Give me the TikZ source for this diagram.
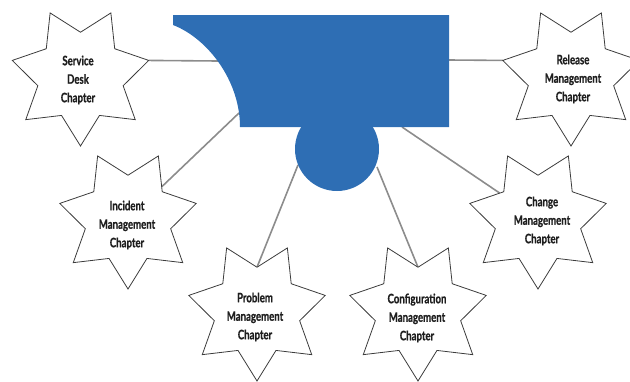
\documentclass[tikz,border=0pt]{standalone}
\usepackage{fontspec}
\newfontfamily\chapfont{Lato}[UprightFont=* Bold, FakeStretch=0.74, FakeBold=0.8]
\usetikzlibrary{shapes.geometric,backgrounds}
\definecolor{hubblue}{RGB}{46,110,180}
\definecolor{linkgray}{RGB}{140,140,140}
\definecolor{starline}{RGB}{60,60,60}
\definecolor{labeltext}{RGB}{30,30,30}
\begin{document}
\begin{tikzpicture}[x=1pt,y=-1pt,
  chapter/.style={star, star points=7, star point ratio=1.6,
    shape border rotate=180, minimum size=140pt, inner sep=0pt,
    outer sep=0pt, draw=starline, line width=0.8pt, fill=white},
  chaptertext/.style={align=center, inner sep=0pt, text=labeltext,
    font=\chapfont\fontsize{13}{18.5}\selectfont},
  link/.style={draw=linkgray, line width=1.6pt}]
\useasboundingbox (0,0) rectangle (630,381);

% central hub: rectangle with a concave left edge and a round knob below
\fill[hubblue] (173,15) -- (449,15) -- (449,127) -- (240,127)
  .. controls (240,80) and (207,38) .. (173,25) -- cycle;
\fill[hubblue] (337,149) circle[radius=42];

% attachment points on the hub
\coordinate (b1) at (218,61);
\coordinate (b2) at (239,113);
\coordinate (b3) at (298,165);
\coordinate (b4) at (377,167);
\coordinate (b5) at (402,127);
\coordinate (b6) at (449,60);

% chapter stars
\node[chapter] (sd)  at (80.5,76) {};
\node[chapter] (rel) at (571,76) {};
\node[chapter] (inc) at (128,219) {};
\node[chapter] (chg) at (538,219) {};
\node[chapter] (prb) at (257,311) {};
\node[chapter] (cfg) at (418,311) {};

\node[chaptertext] (sdt)  at (78,80)   {Service\\Desk\\Chapter};
\node[chaptertext] (relt) at (573,79)  {Release\\Management\\Chapter};
\node[chaptertext] (inct) at (127,225) {Incident\\Management\\Chapter};
\node[chaptertext] (chgt) at (542,221) {Change\\Management\\Chapter};
\node[chaptertext] (prbt) at (255,317) {Problem\\Management\\Chapter};
\node[chaptertext] (cfgt) at (417,318) {Configuration\\Management\\Chapter};

% connectors
\begin{pgfonlayer}{background}
  \draw[link] (sd.outer point 3) -- (b1);
  \draw[link] (inc) -- (b2);
  \draw[link] (prb.inner point 4) -- (b3);
  \draw[link] (cfg.inner point 4) -- (b4);
  \draw[link] (chg) -- (b5);
  \draw[link] (rel.outer point 6) -- (b6);
\end{pgfonlayer}
\end{tikzpicture}
\end{document}
